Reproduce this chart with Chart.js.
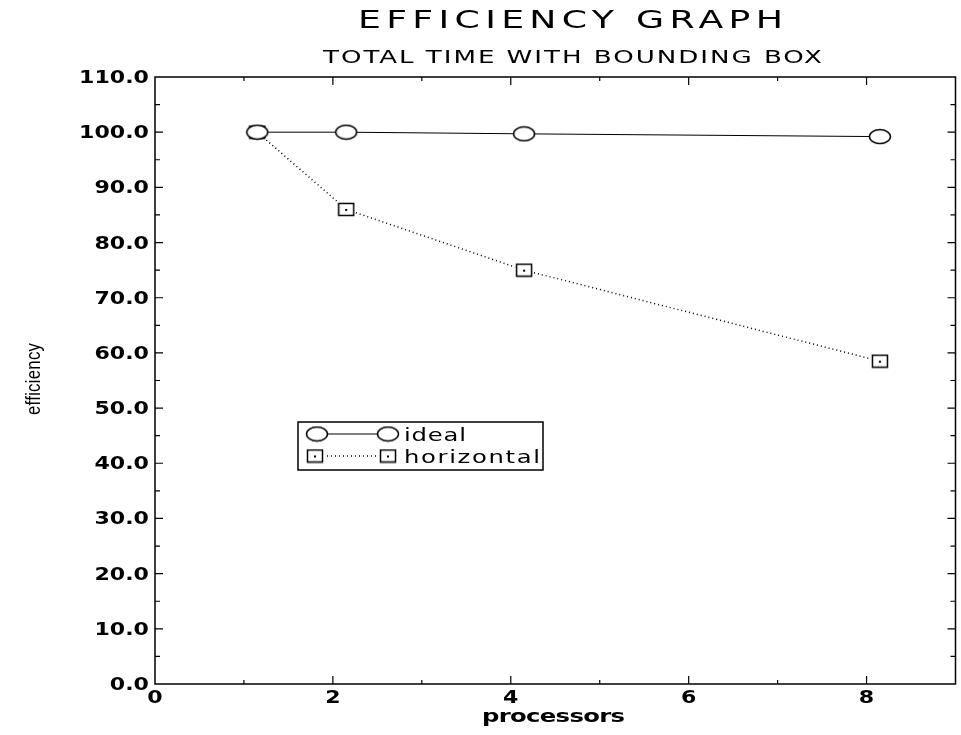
<!DOCTYPE html>
<html lang="en">
<head>
    <meta charset="UTF-8">
    <title>Efficiency Graph</title>
    <script src="https://cdn.jsdelivr.net/npm/chart.js"></script>
    <style>
        html, body { margin: 0; padding: 0; background: #fff; }
        #wrap { width: 961px; height: 735px; }
    </style>
</head>
<body>
    <div id="wrap"><canvas id="effChart" width="961" height="735"></canvas></div>
    <script>
        // values
        const processors = [1.15, 2.15, 4.15, 8.15];
        const idealEff = [100, 100, 99.7, 99.2];
        const horizontalEff = [100, 86, 75, 58.5];
        const xTickValues = [0, 2, 4, 6, 8];
        const yTickValues = [0, 10, 20, 30, 40, 50, 60, 70, 80, 90, 100, 110];
        const seriesNames = ["ideal", "horizontal"];

        const FONT = "'DejaVu Sans', 'Liberation Sans', Arial, sans-serif";

        function makeEllipse() {
            const c = document.createElement("canvas");
            c.width = 24; c.height = 17;
            const g = c.getContext("2d");
            g.fillStyle = "#fff";
            g.strokeStyle = "#000";
            g.lineWidth = 1.5;
            g.beginPath();
            g.ellipse(12, 8.5, 10.5, 7, 0, 0, Math.PI * 2);
            g.fill(); g.stroke();
            return c;
        }
        function makeSquare() {
            const c = document.createElement("canvas");
            c.width = 18; c.height = 15;
            const g = c.getContext("2d");
            g.fillStyle = "#fff";
            g.fillRect(0, 0, 18, 15);
            g.strokeStyle = "#000";
            g.lineWidth = 1.5;
            g.strokeRect(1.5, 1.5, 15, 12);
            g.fillStyle = "#000";
            g.fillRect(8, 7, 2, 2);
            return c;
        }
        const ellipseImg = makeEllipse();
        const squareImg = makeSquare();

        // the original lettering is an extended face: stretch glyphs, then spread to width
        // align: 0 = left, 0.5 = centre, 1 = right (x is that point)
        function wideText(ctx, text, x, baseline, font, hs, width, align) {
            ctx.save();
            ctx.font = font;
            ctx.letterSpacing = "0px";
            const w = ctx.measureText(text).width;
            let sp = 0;
            if (width && text.length > 1) sp = (width / hs - w) / (text.length - 1);
            const total = (w + sp * (text.length - 1)) * hs;
            ctx.translate(x - total * (align || 0), baseline);
            ctx.scale(hs, 1);
            ctx.letterSpacing = sp + "px";
            ctx.textAlign = "left";
            ctx.textBaseline = "alphabetic";
            ctx.fillText(text, 0, 0);
            ctx.restore();
        }

        const boxPlugin = {
            id: "boxPlugin",
            afterDraw(chart) {
                const ctx = chart.ctx;
                const a = chart.chartArea;
                const xs = chart.scales.x, ys = chart.scales.y;
                ctx.save();
                ctx.strokeStyle = "#000";
                ctx.fillStyle = "#000";
                ctx.lineWidth = 1.5;
                ctx.strokeRect(a.left, a.top, a.right - a.left, a.bottom - a.top);
                ctx.lineWidth = 1.2;
                // inward ticks, y every 5, x every 1
                for (let v = 5; v < 110; v += 5) {
                    const y = ys.getPixelForValue(v);
                    const len = v % 10 === 0 ? 8 : 5;
                    ctx.beginPath();
                    ctx.moveTo(a.left, y); ctx.lineTo(a.left + len, y);
                    ctx.moveTo(a.right, y); ctx.lineTo(a.right - len, y);
                    ctx.stroke();
                }
                for (let v = 1; v <= 8; v++) {
                    const x = xs.getPixelForValue(v);
                    const len = v % 2 === 0 ? 8 : 4;
                    ctx.beginPath();
                    ctx.moveTo(x, a.bottom); ctx.lineTo(x, a.bottom - len);
                    ctx.moveTo(x, a.top); ctx.lineTo(x, a.top + len);
                    ctx.stroke();
                }

                // tick labels from the scales' own ticks
                const tickFont = "bold 17px " + FONT;
                ys.ticks.forEach(t => {
                    wideText(ctx, t.value.toFixed(1), a.left - 6, ys.getPixelForValue(t.value) + 6, tickFont, 1.3, 0, 1);
                });
                xs.ticks.forEach(t => {
                    wideText(ctx, String(t.value), xs.getPixelForValue(t.value), a.bottom + 19, tickFont, 1.3, 0, 0.5);
                });

                // titles
                wideText(ctx, "EFFICIENCY GRAPH", 358, 28, "25px " + FONT, 1.45, 425, 0);
                wideText(ctx, "TOTAL TIME WITH BOUNDING BOX", 323, 63, "18px " + FONT, 1.45, 499, 0);
                wideText(ctx, "processors", 482, 722, "bold 18px " + FONT, 1.35, 143, 0);
                ctx.save();
                ctx.translate(40, 415);
                ctx.rotate(-Math.PI / 2);
                wideText(ctx, "efficiency", 0, 0, "21px 'Liberation Sans', Arial, sans-serif", 0.8, 72, 0);
                ctx.restore();

                // legend
                ctx.lineWidth = 1.5;
                ctx.strokeRect(298, 422, 245, 48);
                ctx.lineWidth = 1;
                ctx.beginPath();
                ctx.moveTo(317, 434); ctx.lineTo(388, 434);
                ctx.stroke();
                ctx.setLineDash([1, 3]);
                ctx.lineWidth = 1.5;
                ctx.beginPath();
                ctx.moveTo(315, 456); ctx.lineTo(388, 456);
                ctx.stroke();
                ctx.setLineDash([]);
                ctx.drawImage(ellipseImg, 317 - 12, 434 - 8.5);
                ctx.drawImage(ellipseImg, 388 - 12, 434 - 8.5);
                ctx.drawImage(squareImg, 315 - 9, 456 - 7.5);
                ctx.drawImage(squareImg, 388 - 9, 456 - 7.5);
                wideText(ctx, seriesNames[0], 404, 441, "18px " + FONT, 1.35, 62, 0);
                wideText(ctx, seriesNames[1], 404, 463, "18px " + FONT, 1.35, 136, 0);
                ctx.restore();
            }
        };

        new Chart(document.getElementById("effChart"), {
            type: "line",
            data: {
                datasets: [{
                    label: seriesNames[0],
                    data: processors.map((p, i) => ({ x: p, y: idealEff[i] })),
                    borderColor: "#000",
                    borderWidth: 1,
                    pointStyle: ellipseImg,
                    tension: 0
                }, {
                    label: seriesNames[1],
                    data: processors.map((p, i) => ({ x: p, y: horizontalEff[i] })),
                    borderColor: "#000",
                    borderWidth: 1.5,
                    borderDash: [1, 3],
                    pointStyle: squareImg,
                    tension: 0
                }]
            },
            options: {
                responsive: false,
                animation: false,
                layout: { padding: { top: 77, right: 3, left: 0, bottom: 0 } },
                plugins: { legend: { display: false }, tooltip: { enabled: false } },
                scales: {
                    x: {
                        type: "linear",
                        min: 0,
                        max: 9,
                        afterBuildTicks: s => { s.ticks = xTickValues.map(v => ({ value: v })); },
                        afterFit: s => { s.height = 51; },
                        grid: { display: false, drawTicks: false },
                        border: { display: false },
                        ticks: { display: false }
                    },
                    y: {
                        min: 0,
                        max: 110,
                        afterBuildTicks: s => { s.ticks = yTickValues.map(v => ({ value: v })); },
                        afterFit: s => { s.width = 155; },
                        grid: { display: false, drawTicks: false },
                        border: { display: false },
                        ticks: { display: false }
                    }
                }
            },
            plugins: [boxPlugin]
        });
    </script>
</body>
</html>
